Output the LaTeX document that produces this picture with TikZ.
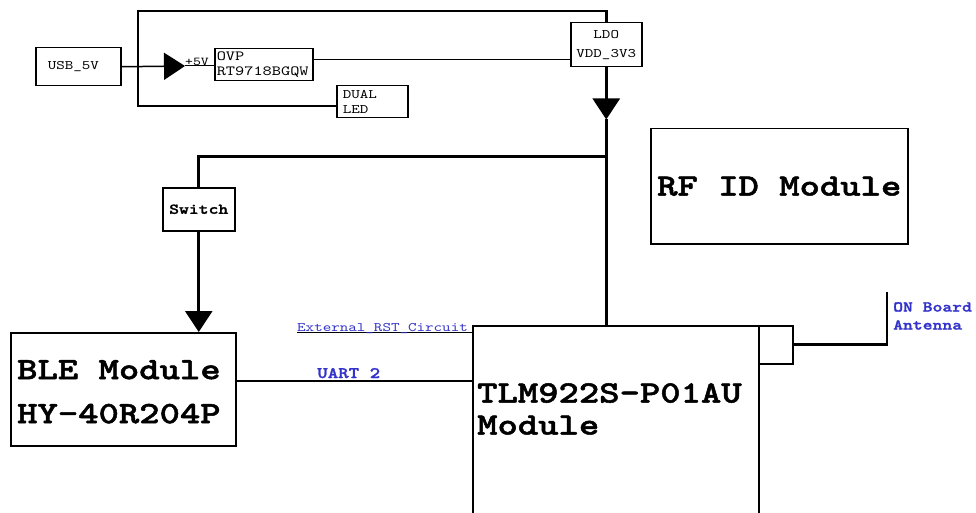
\documentclass[tikz,border=0pt]{standalone}
\usepackage{fontspec}
\setmainfont{lmmono10-regular}[Extension=.otf, BoldFont=lmmonolt10-bold, FakeStretch=1.25, BoldFeatures={FakeBold=1.6}]
\usetikzlibrary{arrows.meta}
\definecolor{lblue}{RGB}{51,51,204}
\begin{document}
\begin{tikzpicture}[x=1pt,y=-1pt,
  box/.style={draw, line width=1.5pt, inner sep=0pt, anchor=north west, font=\fontsize{13}{15}\selectfont},
  bigtext/.style={anchor=north west, inner sep=0pt, align=left},
  wire/.style={line width=2.6pt},
  thinwire/.style={line width=1.5pt},
  hairwire/.style={line width=1pt},
  tri/.style={-{Triangle[length=21pt,width=27pt]}},
  bluelbl/.style={text=lblue, inner sep=0pt}]
\useasboundingbox (0,0) rectangle (976,513);
% boxes
\node[box, minimum width=85pt, minimum height=38pt, text width=61pt, inner xsep=12pt, align=left] (usb) at (35,47) {USB\_5V};
\node[box, minimum width=98pt, minimum height=32pt, text width=94pt, inner xsep=2pt, align=left, font=\fontsize{14}{15}\selectfont] (ovp) at (214,48) {OVP\\RT9718BGQW};
\node[box, minimum width=71pt, minimum height=32pt, text width=59pt, inner xsep=6pt, align=left] (dual) at (336,85) {DUAL\\LED};
\node[box, minimum width=71pt, minimum height=44pt, align=center, font=\fontsize{13}{19}\selectfont] (ldo) at (570,22) {LDO\\VDD\_3V3};
\node[box, minimum width=72pt, minimum height=43pt, font=\fontsize{15}{16}\selectfont\bfseries] (sw) at (162,187) {Switch};
\node[box, minimum width=225pt, minimum height=113pt] (ble) at (10,332) {};
\node[bigtext, font=\fontsize{31}{44}\selectfont\bfseries] (bletext) at (17,360) {BLE Module\\HY-40R204P};
\node[box, minimum width=286pt, minimum height=195pt] (tlm) at (472,325) {};
\node[bigtext, font=\fontsize{31}{32}\selectfont\bfseries] (tlmtext) at (477,383) {TLM922S-P01AU\\Module};
\node[box, minimum width=34pt, minimum height=38pt] (ant) at (758,325) {};
\node[box, font=\fontsize{31}{45}\selectfont\bfseries, minimum width=257pt, minimum height=115pt] (rfid) at (650,128) {RF ID Module};
% coordinates
\coordinate (tip1) at (185,66);
\coordinate (tl) at (138,11);
\coordinate (bl) at (138,106);
\path (ldo.south) ++(0,52) coordinate (tip2);
\path (ldo.south) ++(0,89) coordinate (j);
\coordinate (rst) at (297,332);
\coordinate (atop) at (887,292);
\coordinate (uart) at (236,381);
\coordinate (ovpo) at (312,60);
% connectors
\draw[thinwire, tri] (usb.east) -- (tip1);
\draw[hairwire] (tip1) -- (ovp.west |- tip1);
\node[anchor=west, inner sep=0pt, font=\fontsize{12}{12}\selectfont] (p5v) at (185,62) {+5V};
\draw[wire] (ldo.north) |- (tl) -- (bl) -- (dual.west |- bl);
\draw[hairwire] (ovpo) -- (ldo.west |- ovpo);
\draw[wire, tri] (ldo.south) -- (tip2);
\draw[wire] (tip2) -- (tip2 |- tlm.north);
\draw[wire] (j) -| (sw.north);
\draw[wire, tri] (sw.south) -- (sw.south |- ble.north);
\draw[thinwire] (uart) -- (tlm.west |- uart);
\draw[hairwire] (rst) -- (tlm.west |- rst);
\draw[wire] (ant.east) -| (atop);
% labels
\node[bluelbl, anchor=base west, font=\fontsize{13}{13}\selectfont] (rstlbl) at (297,331) {External\_RST\_Circuit};
\node[bluelbl, anchor=base west, font=\fontsize{16}{16}\selectfont\bfseries] (uartlbl) at (317,378) {UART 2};
\node[bluelbl, anchor=north west, align=left, font=\fontsize{15}{18}\selectfont\bfseries] (antlbl) at (893,302) {ON Board\\Antenna};
\end{tikzpicture}
\end{document}
